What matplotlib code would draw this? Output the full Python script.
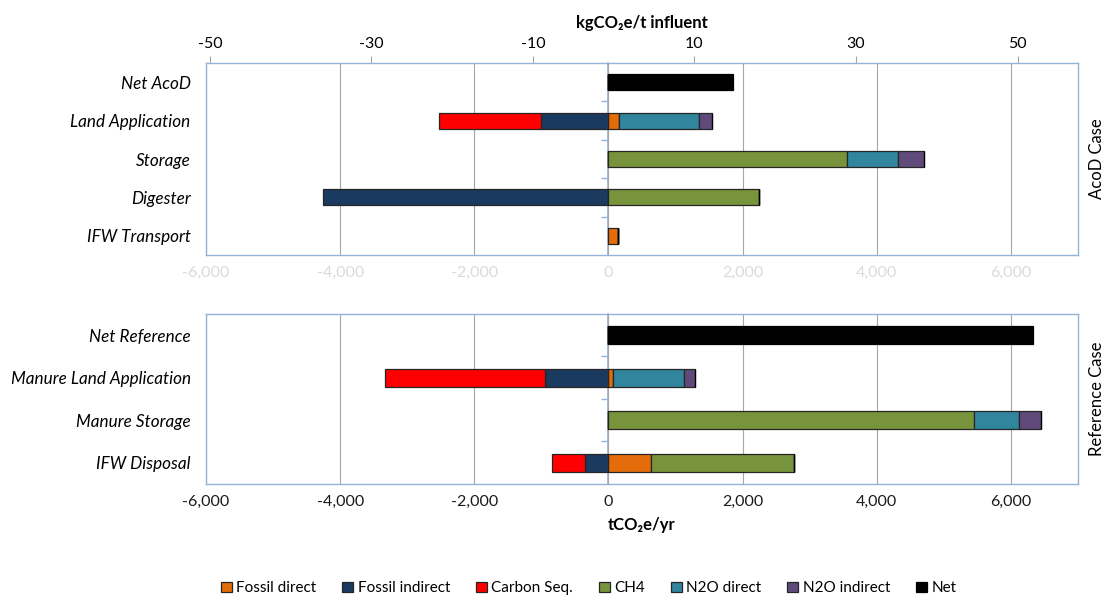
import numpy as np
import matplotlib
matplotlib.use('Agg')
import matplotlib.pyplot as plt
from matplotlib.ticker import FuncFormatter

plt.rcParams['font.family'] = ['Lato', 'DejaVu Sans']
plt.rcParams['axes.unicode_minus'] = False

# ── Datos (tCO2e/yr) ─────────────────────────────────────────────────────────
SERIES = ['Fossil direct', 'Fossil indirect', 'Carbon Seq.', 'CH4',
          'N2O direct', 'N2O indirect', 'Net']
COLORS = ['#E46C0A', '#1B3A5F', '#FF0000', '#77933C',
          '#31859C', '#604A7B', '#000000']

acod_cats = ['Net AcoD', 'Land Application', 'Storage', 'Digester',
             'IFW Transport']
acod_fossil_direct   = [0, 160, 0, 0, 135]
acod_fossil_indirect = [0, -1000, 0, -4250, 0]
acod_carbon_seq      = [0, -1530, 0, 0, 0]
acod_ch4             = [0, 0, 3560, 2250, 0]
acod_n2o_direct      = [0, 1185, 750, 0, 0]
acod_n2o_indirect    = [0, 200, 400, 0, 0]
acod_net             = [1860, 0, 0, 0, 0]

ref_cats = ['Net Reference', 'Manure Land Application', 'Manure Storage',
            'IFW Disposal']
ref_fossil_direct   = [0, 75, 0, 630]
ref_fossil_indirect = [0, -945, 0, -345]
ref_carbon_seq      = [0, -2380, 0, -495]
ref_ch4             = [0, 0, 5455, 2130]
ref_n2o_direct      = [0, 1045, 665, 0]
ref_n2o_indirect    = [0, 165, 330, 0]
ref_net             = [6330, 0, 0, 0]

xticks_t  = [-6000, -4000, -2000, 0, 2000, 4000, 6000]
xticks_kg = [-50, -30, -10, 10, 30, 50]
# eje secundario (independiente en el original): t = k * KG_FACTOR + KG_OFFSET
KG_FACTOR = 120.4
KG_OFFSET = 78.0

XMIN, XMAX = -6000, 7000
SPINE = '#95B3D7'
GRID  = '#A6A6A6'


def draw_panel(ax, cats, values, side_label, faint_ticks):
    """Barras apiladas horizontales (positivos y negativos por separado)."""
    y = np.arange(len(cats))
    pos = np.zeros(len(cats))
    neg = np.zeros(len(cats))
    for name, color, vals in zip(SERIES, COLORS, values):
        vals = np.asarray(vals, dtype=float)
        left = np.where(vals >= 0, pos, neg)
        ec = color if name == 'Net' else '#262626'
        ax.barh(y, vals, left=left, height=0.42, color=color,
                edgecolor=ec, linewidth=0.9, label=name, zorder=3)
        pos += np.clip(vals, 0, None)
        neg += np.clip(vals, None, 0)

    ax.set_xlim(XMIN, XMAX)
    ax.set_ylim(len(cats) - 0.5, -0.5)
    ax.set_yticks(y)
    ax.set_yticklabels(cats, fontsize=12.3, style='italic')
    ax.tick_params(axis='y', length=0, pad=11)
    ax.set_xticks(xticks_t)
    ax.xaxis.set_major_formatter(FuncFormatter(lambda v, p: f'{v:,.0f}'))
    ax.tick_params(axis='x', length=0, labelsize=11.5, pad=8,
                   labelcolor='#DADADA' if faint_ticks else '#1a1a1a')
    ax.grid(axis='x', color=GRID, linewidth=0.8, zorder=0)
    for s in ax.spines.values():
        s.set_color(SPINE)
        s.set_linewidth(1.0)

    # eje vertical en x=0 con marcas entre categorías
    loc = (0 - XMIN) / (XMAX - XMIN)
    sec = ax.secondary_yaxis(loc)
    sec.spines['left'].set_color(SPINE)
    sec.spines['left'].set_linewidth(1.2)
    sec.set_yticks(np.arange(len(cats) - 1) + 0.5)
    sec.set_yticklabels([])
    sec.tick_params(axis='y', length=5, color=SPINE, width=1)

    ax.text(1.022, 0.5, side_label, transform=ax.transAxes, rotation=90,
            va='center', ha='center', fontsize=12)


fig = plt.figure(figsize=(11.17, 5.99), dpi=100)
ax_top = fig.add_axes([0.1844, 0.5743, 0.7807, 0.3205])
ax_bot = fig.add_axes([0.1844, 0.192, 0.7807, 0.2838])

draw_panel(ax_top, acod_cats,
           [acod_fossil_direct, acod_fossil_indirect, acod_carbon_seq,
            acod_ch4, acod_n2o_direct, acod_n2o_indirect, acod_net],
           'AcoD Case', faint_ticks=True)
draw_panel(ax_bot, ref_cats,
           [ref_fossil_direct, ref_fossil_indirect, ref_carbon_seq,
            ref_ch4, ref_n2o_direct, ref_n2o_indirect, ref_net],
           'Reference Case', faint_ticks=False)

# eje superior kgCO2e/t influent
top = ax_top.secondary_xaxis(
    'top', functions=(lambda t: (t - KG_OFFSET) / KG_FACTOR,
                      lambda k: k * KG_FACTOR + KG_OFFSET))
top.set_xticks(xticks_kg)
top.tick_params(axis='x', length=5, color=GRID, labelsize=11.5, pad=4)
top.spines['top'].set_visible(False)
top.set_xlabel('kgCO₂e/t influent', fontsize=12, fontweight='bold',
               labelpad=6)

ax_bot.set_xlabel('tCO₂e/yr', fontsize=12, fontweight='bold', labelpad=6)

handles, labels = ax_top.get_legend_handles_labels()
fig.legend(handles, labels, loc='center', bbox_to_anchor=(0.527, 0.018),
           ncol=7, frameon=False, fontsize=11, handlelength=0.7,
           handleheight=0.7, columnspacing=1.7, handletextpad=0.3)

plt.savefig('out.png', dpi=100)
plt.close()
